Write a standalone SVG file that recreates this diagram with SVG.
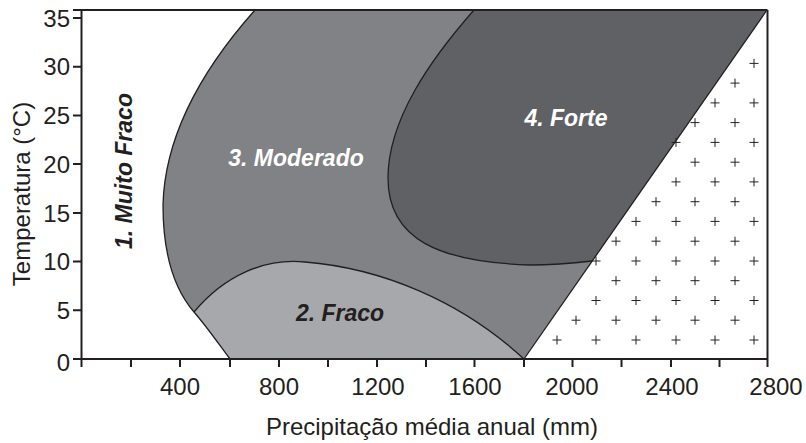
<svg xmlns="http://www.w3.org/2000/svg" width="806" height="443" viewBox="0 0 806 443">
<style>
  text { font-family: "Liberation Sans", Arial, Helvetica, sans-serif; fill: #231f20; }
  .tick { font-size: 24px; }
  .ylab { text-anchor: end; }
  .xlab { text-anchor: middle; }
  .title { font-size: 24px; text-anchor: middle; }
  .zone { font-size: 23px; font-weight: bold; font-style: italic; }
  .light { fill: #ffffff; }
  .edge { fill: none; stroke: #231f20; stroke-width: 1.3; }
  .axis { fill: none; stroke: #231f20; stroke-width: 2; }
  .plus { fill: none; stroke: #231f20; stroke-width: 1; }
</style>
<defs>
  <path id="plus" class="plus" d="M-4.5,0H4.5M0,-4.5V4.5"/>
</defs>
<rect x="0" y="0" width="806" height="443" fill="#ffffff"/>

<g id="regions">
  <g id="moderado"><path fill="#808285" d="M255,10 C215,55 165,125 163,205 C163,255 175,290 194,312 C207,327 218,343 230,359 L524,359 L767,10 Z"/></g>
  <g id="fraco"><path fill="#a7a8ab" d="M194,312 C225,275 265,258 305,262 C380,268 460,300 524,359 L230,359 C218,343 207,327 194,312 Z"/></g>
  <g id="forte"><path fill="#606164" d="M474,10 C430,60 388,120 388,178 C388,240 440,262 530,265 C555,265 575,263 592,261 L767,10 Z"/></g>
</g>

<g id="boundaries">
  <path class="edge" d="M255,10 C215,55 165,125 163,205 C163,255 175,290 194,312 C207,327 218,343 230,359"/>
  <path class="edge" d="M194,312 C225,275 265,258 305,262 C380,268 460,300 524,359"/>
  <path class="edge" d="M524,359 L767,10"/>
  <path class="edge" d="M474,10 C430,60 388,120 388,178 C388,240 440,262 530,265 C555,265 575,263 592,261"/>
</g>

<g id="hatch">
  <use href="#plus" x="557" y="340"/><use href="#plus" x="596" y="340"/><use href="#plus" x="636" y="340"/><use href="#plus" x="676" y="340"/><use href="#plus" x="715" y="340"/><use href="#plus" x="754" y="340"/>
  <use href="#plus" x="576" y="320.2"/><use href="#plus" x="616" y="320.2"/><use href="#plus" x="656" y="320.2"/><use href="#plus" x="695" y="320.2"/><use href="#plus" x="735" y="320.2"/>
  <use href="#plus" x="596" y="300.5"/><use href="#plus" x="636" y="300.5"/><use href="#plus" x="676" y="300.5"/><use href="#plus" x="715" y="300.5"/><use href="#plus" x="754" y="300.5"/>
  <use href="#plus" x="616" y="280.7"/><use href="#plus" x="656" y="280.7"/><use href="#plus" x="695" y="280.7"/><use href="#plus" x="735" y="280.7"/>
  <use href="#plus" x="596" y="261"/><use href="#plus" x="636" y="261"/><use href="#plus" x="676" y="261"/><use href="#plus" x="715" y="261"/><use href="#plus" x="754" y="261"/>
  <use href="#plus" x="616" y="241.2"/><use href="#plus" x="656" y="241.2"/><use href="#plus" x="695" y="241.2"/><use href="#plus" x="735" y="241.2"/>
  <use href="#plus" x="636" y="221.4"/><use href="#plus" x="676" y="221.4"/><use href="#plus" x="715" y="221.4"/><use href="#plus" x="754" y="221.4"/>
  <use href="#plus" x="656" y="201.7"/><use href="#plus" x="695" y="201.7"/><use href="#plus" x="735" y="201.7"/>
  <use href="#plus" x="676" y="181.9"/><use href="#plus" x="715" y="181.9"/><use href="#plus" x="754" y="181.9"/>
  <use href="#plus" x="695" y="162.2"/><use href="#plus" x="735" y="162.2"/>
  <use href="#plus" x="676" y="142.4"/><use href="#plus" x="715" y="142.4"/><use href="#plus" x="754" y="142.4"/>
  <use href="#plus" x="695" y="122.6"/><use href="#plus" x="735" y="122.6"/>
  <use href="#plus" x="715" y="102.9"/><use href="#plus" x="754" y="102.9"/>
  <use href="#plus" x="735" y="83.1"/>
  <use href="#plus" x="754" y="63.4"/>
</g>

<g id="axes">
  <path class="axis" d="M73,10H767.5 M73,359H767.5 M81.5,10V367 M767.5,10V367"/>
  <path class="axis" d="M73,18H81.5 M73,66.7H81.5 M73,115.4H81.5 M73,164.1H81.5 M73,212.9H81.5 M73,261.6H81.5 M73,310.3H81.5"/>
  <path class="axis" d="M131,359V367 M180,359V367 M230,359V367 M279,359V367 M328,359V367 M377,359V367 M426,359V367 M474.5,359V367 M524,359V367 M572.5,359V367 M621.5,359V367 M671,359V367 M719.5,359V367"/>
</g>

<g id="y-labels" class="tick ylab">
  <text x="70" y="26.6">35</text>
  <text x="70" y="75.3">30</text>
  <text x="70" y="124">25</text>
  <text x="70" y="172.7">20</text>
  <text x="70" y="221.5">15</text>
  <text x="70" y="270.2">10</text>
  <text x="70" y="318.9">5</text>
  <text x="70" y="371">0</text>
</g>
<g id="x-labels" class="tick xlab">
  <text x="180" y="395">400</text>
  <text x="279" y="395">800</text>
  <text x="378" y="395">1200</text>
  <text x="475" y="395">1600</text>
  <text x="572" y="395">2000</text>
  <text x="672" y="395">2400</text>
  <text x="776" y="395">2800</text>
</g>

<g id="titles">
  <text class="title" x="432" y="435">Precipitação média anual (mm)</text>
  <text class="title" transform="translate(30,194) rotate(-90)">Temperatura (°C)</text>
</g>

<g id="zone-labels">
  <text class="zone" transform="translate(132,171) rotate(-90)" text-anchor="middle">1. Muito Fraco</text>
  <text class="zone" x="340" y="321" text-anchor="middle">2. Fraco</text>
  <text class="zone light" x="296" y="166" text-anchor="middle">3. Moderado</text>
  <text class="zone light" x="566" y="126" text-anchor="middle">4. Forte</text>
</g>
</svg>
